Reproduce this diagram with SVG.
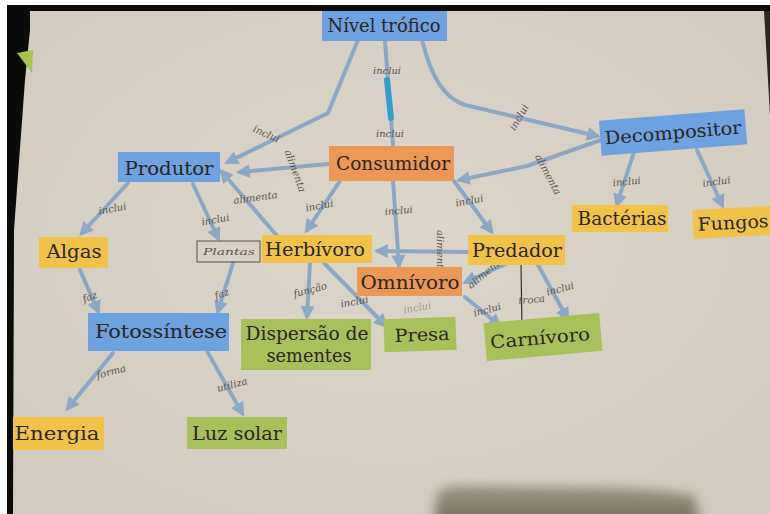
<svg xmlns="http://www.w3.org/2000/svg" width="770" height="514" viewBox="0 0 770 514">
<style>
.box-blue{fill:#6da1df}
.box-orange{fill:#eb9756}
.box-yellow{fill:#f0c348}
.box-green{fill:#a8c05a}
.t{font-family:"DejaVu Serif","Liberation Serif",serif;font-size:18px;fill:#2b2622;text-anchor:middle}
.c{fill:none;stroke:#8ca8c4;stroke-width:4;stroke-linecap:round;stroke-linejoin:round}
.ca{marker-end:url(#ah)}
.lb{font-family:"DejaVu Serif","Liberation Serif",serif;font-style:italic;font-size:10px;fill:#5d554c;text-anchor:middle}
</style>
<defs>
<marker id="ah" viewBox="0 0 10 10" refX="7" refY="5" markerWidth="15" markerHeight="14" markerUnits="userSpaceOnUse" orient="auto">
<path d="M0,0 L10,5 L0,10 z" fill="#8ca8c4"/>
</marker>
<radialGradient id="paper" cx="50%" cy="45%" r="70%">
<stop offset="0" stop-color="#dbd5ca"/>
<stop offset="1" stop-color="#d2cabe"/>
</radialGradient>
<linearGradient id="shade" x1="0" y1="0" x2="0" y2="1">
<stop offset="0" stop-color="#9a927f"/>
<stop offset="1" stop-color="#6f6856"/>
</linearGradient>
<filter id="blur" x="-20%" y="-60%" width="140%" height="220%"><feGaussianBlur stdDeviation="6"/></filter>
</defs>
<rect x="0" y="0" width="770" height="514" fill="#ffffff"/>
<rect x="7" y="5" width="763" height="509" fill="url(#paper)"/>
<path d="M434,530 L436,497 Q440,486 460,486 L610,488 Q670,490 695,496 L700,530 Z" fill="url(#shade)" filter="url(#blur)"/>
<polygon points="7,5 770,5 770,11 7,11" fill="#0b0b0b"/>
<polygon points="7,5 30,5 30,30 25,80 14,230 13,514 7,514" fill="#0b0b0b"/>
<polygon points="764,11 770,11 770,115" fill="#2a2620"/>
<polygon points="17,53 33,50 32,73" fill="#a6c24a"/>

<g id="connectors">
<path class="c ca" d="M358,40 L328,113 L228,162"/>
<path class="c" d="M385,42 L393,145"/>
<path d="M387,80 L391,118" fill="none" stroke="#2f9fd2" stroke-width="6" stroke-linecap="round"/>
<path class="c ca" d="M422,40 C432,80 445,98 465,105 L597,136"/>
<path class="c ca" d="M328,164 L240,172"/>
<path class="c ca" d="M278,237 L222,172"/>
<path class="c ca" d="M128,183 L82,233"/>
<path class="c ca" d="M193,184 L218,238"/>
<path class="c ca" d="M80,270 L98,311"/>
<path class="c ca" d="M233,263 L218,311"/>
<path class="c ca" d="M113,353 L68,408"/>
<path class="c ca" d="M207,351 L242,413"/>
<path class="c ca" d="M340,181 L307,230"/>
<path class="c ca" d="M393,181 L399,265"/>
<path class="c ca" d="M468,252 L378,251"/>
<path class="c ca" d="M454,181 L491,231"/>
<path class="c ca" d="M601,140 L527,166 L460,180"/>
<path class="c ca" d="M634,152 L617,204"/>
<path class="c ca" d="M697,150 L722,205"/>
<path class="c ca" d="M508,263 L466,282"/>
<path class="c ca" d="M537,263 L567,318"/>
<path d="M521,263 L522,332" fill="none" stroke="#3a3530" stroke-width="1.2"/>
<path class="c ca" d="M465,297 L499,325"/>
<path class="c ca" d="M310,263 L307,316"/>
<path class="c ca" d="M324,263 L385,325"/>
<text class="lb" x="387" y="74">inclui</text>
<text class="lb" x="390" y="137">inclui</text>
<text class="lb" transform="translate(265,137) rotate(25)">inclui</text>
<text class="lb" transform="translate(522,119) rotate(-60)">inclui</text>
<text class="lb" transform="translate(292,172) rotate(70)">alimenta</text>
<text class="lb" transform="translate(256,201) rotate(-8)">alimenta</text>
<text class="lb" transform="translate(113,212) rotate(-10)">inclui</text>
<text class="lb" transform="translate(216,223) rotate(-10)">inclui</text>
<text class="lb" transform="translate(91,300) rotate(-20)">faz</text>
<text class="lb" transform="translate(223,297) rotate(-20)">faz</text>
<text class="lb" transform="translate(112,375) rotate(-15)">forma</text>
<text class="lb" transform="translate(233,388) rotate(-15)">utiliza</text>
<text class="lb" transform="translate(320,209) rotate(-10)">inclui</text>
<text class="lb" transform="translate(399,214) rotate(-5)">inclui</text>
<text class="lb" transform="translate(437,252) rotate(90)">alimenta</text>
<text class="lb" transform="translate(470,204) rotate(-10)">inclui</text>
<text class="lb" transform="translate(545,176) rotate(62)">alimenta</text>
<text class="lb" transform="translate(627,185) rotate(-5)">inclui</text>
<text class="lb" transform="translate(717,185) rotate(-8)">inclui</text>
<text class="lb" transform="translate(488,275) rotate(-40)" font-size="7">alimenta</text>
<text class="lb" transform="translate(561,292) rotate(-15)">inclui</text>
<text class="lb" transform="translate(532,303) rotate(-5)">troca</text>
<text class="lb" transform="translate(488,313) rotate(-15)">inclui</text>
<text class="lb" transform="translate(311,293) rotate(-15)">função</text>
<text class="lb" transform="translate(355,305) rotate(-10)">inclui</text>
<text class="lb" transform="translate(418,311) rotate(-10)" opacity="0.45">inclui</text>
</g>

<g id="node-nivel-trofico"><rect class="box-blue" x="322" y="11" width="125" height="30"/><text class="t" x="384" y="32" textLength="113" lengthAdjust="spacingAndGlyphs">Nível trófico</text></g>
<g id="node-consumidor"><rect class="box-orange" x="329" y="146" width="125" height="35"/><text class="t" x="393" y="170" textLength="114" lengthAdjust="spacingAndGlyphs">Consumidor</text></g>
<g id="node-produtor"><rect class="box-blue" x="118" y="152" width="102" height="30"/><text class="t" x="169" y="175" textLength="89" lengthAdjust="spacingAndGlyphs">Produtor</text></g>
<g id="node-decompositor" transform="rotate(-4.5 673 132)"><rect class="box-blue" x="600" y="115" width="146" height="35"/><text class="t" x="673" y="139" textLength="137" lengthAdjust="spacingAndGlyphs">Decompositor</text></g>
<g id="node-bacterias"><rect class="box-yellow" x="572" y="205" width="96" height="27"/><text class="t" x="622" y="225" textLength="89" lengthAdjust="spacingAndGlyphs">Bactérias</text></g>
<g id="node-fungos" transform="rotate(-3 732 222)"><rect class="box-yellow" x="693" y="208" width="80" height="29"/><text class="t" x="733" y="229" textLength="71" lengthAdjust="spacingAndGlyphs">Fungos</text></g>
<g id="node-algas"><rect class="box-yellow" x="39" y="237" width="69" height="31"/><text class="t" x="74" y="258" textLength="55" lengthAdjust="spacingAndGlyphs">Algas</text></g>
<g id="node-plantas"><rect x="197" y="241" width="63" height="21" fill="none" stroke="#5a524a" stroke-width="1"/><text class="lb" x="229" y="255" font-size="11" textLength="52" lengthAdjust="spacingAndGlyphs">Plantas</text></g>
<g id="node-herbivoro"><rect class="box-yellow" x="262" y="235" width="110" height="28"/><text class="t" x="315" y="256" textLength="100" lengthAdjust="spacingAndGlyphs">Herbívoro</text></g>
<g id="node-predador"><rect class="box-yellow" x="468" y="235" width="97" height="30"/><text class="t" x="517" y="257" textLength="90" lengthAdjust="spacingAndGlyphs">Predador</text></g>
<g id="node-omnivoro"><rect class="box-orange" x="357" y="267" width="105" height="29"/><text class="t" x="410" y="289" textLength="99" lengthAdjust="spacingAndGlyphs">Omnívoro</text></g>
<g id="node-fotossintese"><rect class="box-blue" x="88" y="313" width="141" height="38"/><text class="t" x="161" y="338" textLength="132" lengthAdjust="spacingAndGlyphs">Fotossíntese</text></g>
<g id="node-dispersao"><rect class="box-green" x="241" y="319" width="130" height="51"/><text class="t" x="307" y="340" textLength="123" lengthAdjust="spacingAndGlyphs">Dispersão de</text><text class="t" x="309" y="362" textLength="85" lengthAdjust="spacingAndGlyphs">sementes</text></g>
<g id="node-presa" transform="rotate(-2 420 334)"><rect class="box-green" x="384" y="318" width="72" height="33"/><text class="t" x="422" y="341" textLength="55" lengthAdjust="spacingAndGlyphs">Presa</text></g>
<g id="node-carnivoro" transform="rotate(-5 543 337)"><rect class="box-green" x="485" y="318" width="116" height="38"/><text class="t" x="540" y="344" textLength="100" lengthAdjust="spacingAndGlyphs">Carnívoro</text></g>
<g id="node-energia"><rect class="box-yellow" x="13" y="417" width="91" height="33"/><text class="t" x="57" y="440" textLength="85" lengthAdjust="spacingAndGlyphs">Energia</text></g>
<g id="node-luz-solar"><rect class="box-green" x="187" y="417" width="100" height="32"/><text class="t" x="237" y="440" textLength="90" lengthAdjust="spacingAndGlyphs">Luz solar</text></g>
</svg>
